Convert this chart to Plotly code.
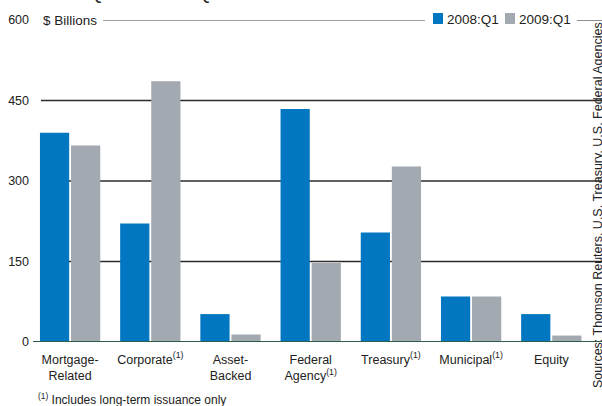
import plotly.graph_objects as go

# Issuance by sector, $ billions
categories = [
    "Mortgage-<br>Related",
    "Corporate<sup>(1)</sup>",
    "Asset-<br>Backed",
    "Federal<br>Agency<sup>(1)</sup>",
    "Treasury<sup>(1)</sup>",
    "Municipal<sup>(1)</sup>",
    "Equity",
]
q1_2008 = [390, 221, 52, 434, 204, 85, 52]
q1_2009 = [366, 486, 14, 147, 327, 85, 12]
y_ticks = [0, 150, 300, 450, 600]
series_names = ["2008:Q1", "2009:Q1"]

BLUE = "#0077c0"
GRAY = "#a3a9b0"
FONT = "Liberation Sans, Arial, sans-serif"
INK = "#222222"

W, H = 602, 406
ML, MR, MT, MB = 30, 0, 20, 64
PW = W - ML - MR
PH = H - MT - MB
STEP = 80.2  # pixels per category slot

def px_x(px):
    return (px - ML) / PW

def px_y(py):
    return 1 - (py - MT) / PH

x = list(range(len(categories)))

fig = go.Figure()
fig.add_bar(x=x, y=q1_2008, name=series_names[0], marker_color=BLUE, marker_line_width=0)
fig.add_bar(x=x, y=q1_2009, name=series_names[1], marker_color=GRAY, marker_line_width=0)

shapes = []
# horizontal rules at each interior tick, drawn behind the bars
for v in y_ticks[1:-1]:
    shapes.append(dict(type="line", xref="paper", yref="y", x0=px_x(41), x1=1,
                       y0=v, y1=v, line=dict(color="#2b2b2b", width=1.5), layer="below"))
# header rule at the top tick, broken by the label and the key
top = y_ticks[-1]
shapes.append(dict(type="line", xref="paper", yref="y", x0=px_x(103), x1=px_x(425),
                   y0=top, y1=top, line=dict(color="#444444", width=1.2), layer="below"))
shapes.append(dict(type="line", xref="paper", yref="y", x0=px_x(577), x1=1,
                   y0=top, y1=top, line=dict(color="#444444", width=1.2), layer="below"))
# baseline
shapes.append(dict(type="line", xref="paper", yref="y", x0=px_x(33), x1=1,
                   y0=0, y1=0, line=dict(color="#2d5e4f", width=2), layer="above"))

# series key in the header rule
key_items = [(series_names[0], BLUE, 433), (series_names[1], GRAY, 505)]
annotations = []
for name, color, kx in key_items:
    shapes.append(dict(type="rect", xref="paper", yref="paper",
                       x0=px_x(kx), x1=px_x(kx + 10), y0=px_y(24), y1=px_y(13),
                       fillcolor=color, line=dict(width=0)))
    annotations.append(dict(text=name, xref="paper", yref="paper",
                            x=px_x(kx + 12), y=px_y(19), xanchor="left", yanchor="middle",
                            showarrow=False, font=dict(family=FONT, size=13.5, color=INK)))

annotations += [
    dict(text="$ Billions", xref="paper", yref="y", x=px_x(41), y=top,
         xanchor="left", yanchor="middle", showarrow=False,
         font=dict(family=FONT, size=13.5, color=INK)),
    dict(text="<sup>(1)</sup> Includes long-term issuance only", xref="paper", yref="paper",
         x=px_x(36), y=px_y(399), xanchor="left", yanchor="middle", showarrow=False,
         font=dict(family=FONT, size=12, color=INK)),
    dict(text="Sources: Thomson Reuters, U.S. Treasury, U.S. Federal Agencies",
         xref="paper", yref="paper", x=px_x(598), y=px_y(205), textangle=-90,
         xanchor="center", yanchor="middle", showarrow=False,
         font=dict(family=FONT, size=12.5, color=INK)),
    dict(text="2008:Q1 vs 2009:Q1", xref="paper", yref="paper",
         x=px_x(36), y=px_y(5), xanchor="left", yanchor="bottom", showarrow=False,
         font=dict(family=FONT, size=20, color=INK)),
]

fig.update_layout(
    width=W, height=H,
    margin=dict(l=ML, r=MR, t=MT, b=MB, pad=0),
    paper_bgcolor="white", plot_bgcolor="white",
    barmode="group", bargap=0.225, bargroupgap=0.06,
    font=dict(family=FONT, size=12.5, color=INK),
    showlegend=False,
    shapes=shapes,
    annotations=annotations,
    xaxis=dict(tickmode="array", tickvals=x, ticktext=categories,
               range=[-0.5, -0.5 + PW / STEP], showgrid=False, zeroline=False,
               showline=False, ticks="", ticklabelstandoff=8,
               tickfont=dict(family=FONT, size=12.5, color=INK)),
    yaxis=dict(range=[0, 600], tickvals=y_ticks, showgrid=False, zeroline=False,
               showline=False, ticks="", ticklabelstandoff=0,
               tickfont=dict(family=FONT, size=12.5, color=INK)),
)

fig.write_html("out.html")
